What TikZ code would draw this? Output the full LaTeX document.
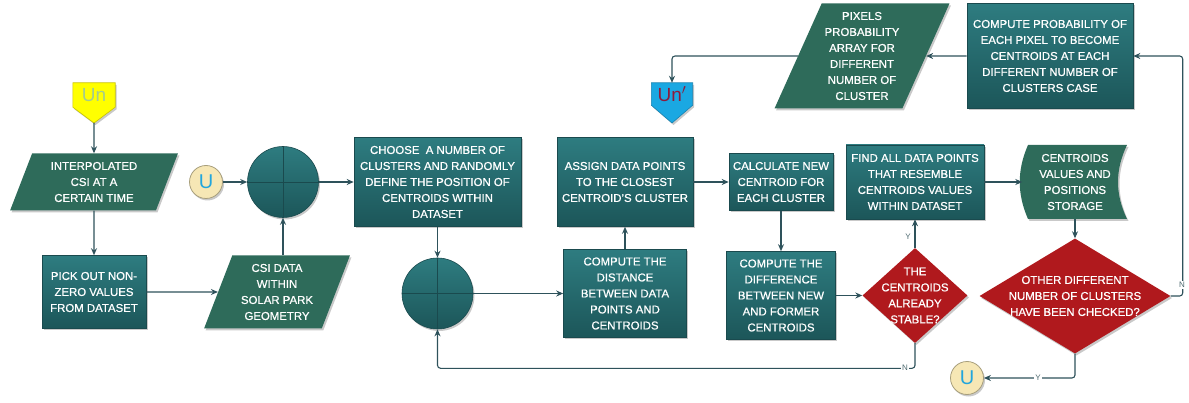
\documentclass[tikz,border=0pt]{standalone}
\usepackage{fontspec}
\setmainfont{Liberation Sans}
\newfontfamily\boxfont[FakeBold=0.7]{Liberation Sans}
\usetikzlibrary{shapes.geometric,arrows.meta,shadows,calc,backgrounds}

\definecolor{tealtop}{HTML}{2E7C80}
\definecolor{tealbot}{HTML}{1C5659}
\definecolor{tealedge}{HTML}{1A4A4E}
\definecolor{iogreen}{HTML}{2E6B5A}
\definecolor{decred}{HTML}{B0191D}
\definecolor{flowline}{HTML}{2E525B}
\definecolor{connfill}{HTML}{F6E7B5}
\definecolor{connedge}{HTML}{A89F7C}
\definecolor{conntext}{HTML}{22A6DD}
\definecolor{pageyellow}{HTML}{FFFF00}
\definecolor{pageyedge}{HTML}{C9C400}
\definecolor{pageytext}{HTML}{A3CC8E}
\definecolor{pageblue}{HTML}{1AA8E2}
\definecolor{pagebedge}{HTML}{1683B2}
\definecolor{pagebtext}{HTML}{8E1B3B}
\definecolor{labgray}{HTML}{4E6A70}

\begin{document}
\begin{tikzpicture}[x=1pt, y=-1pt,
  txt/.style={text=white, align=center, font=\boxfont\fontsize{11.4}{16}\selectfont, inner sep=0pt},
  softshadow/.style={general shadow={fill=black!70, opacity=0.3, shadow xshift=1.5pt, shadow yshift=-2pt}},
  proc/.style={txt, rectangle, draw=tealedge, line width=0.6pt, top color=tealtop, bottom color=tealbot, softshadow},
  io/.style={txt, trapezium, trapezium stretches=true, fill=iogreen, softshadow},
  dec/.style={diamond, fill=decred, inner sep=0pt, softshadow},
  junc/.style={circle, minimum size=71pt, inner sep=0pt, draw=tealedge, line width=0.6pt, top color=tealtop, bottom color=tealbot, softshadow},
  conn/.style={circle, minimum size=33pt, inner sep=0pt, fill=connfill, draw=connedge, line width=0.8pt, text=conntext, font=\fontsize{20}{20}\selectfont, softshadow},
  pagebox/.style={rectangle, inner sep=0pt, font=\fontsize{19}{19}\selectfont},
  flow/.style={draw=flowline, line width=1.1pt, rounded corners=3pt, -{Stealth[length=7pt,width=6pt]}},
  lab/.style={text=labgray, font=\fontsize{8}{8}\selectfont, fill=white, inner sep=1pt}
]
\useasboundingbox (0,0) rectangle (1189,403);

% ---------- left column ----------
\node[pagebox, minimum width=42pt, minimum height=24pt, text=pageytext] (un) at (94,95) {Un};
\coordinate (untip) at (94,123);
\node[io, trapezium left angle=69, trapezium right angle=111, minimum width=168pt, minimum height=57pt] (interp) at (94,182) {INTERPOLATED\\CSI AT A\\CERTAIN TIME};
\node[proc, minimum width=104pt, minimum height=73pt] (pick) at (94,292) {PICK OUT NON-\\ZERO VALUES\\FROM DATASET};
\node[io, trapezium left angle=68, trapezium right angle=112, minimum width=146pt, minimum height=73pt] (csi) at (277,292) {CSI DATA\\WITHIN\\SOLAR PARK\\GEOMETRY};
\node[conn] (u1) at (206,182) {U};
\node[junc] (j1) at (283,182) {};

% ---------- centre ----------
\node[proc, minimum width=167pt, minimum height=89pt] (choose) at (437.5,182) {CHOOSE\ \ A NUMBER OF\\CLUSTERS AND RANDOMLY\\DEFINE THE POSITION OF\\CENTROIDS WITHIN\\DATASET};
\node[junc] (j2) at (437.5,293.5) {};
\node[proc, minimum width=123pt, minimum height=88pt] (dist) at (625,293.5) {COMPUTE THE\\DISTANCE\\BETWEEN DATA\\POINTS AND\\CENTROIDS};
\node[proc, minimum width=136pt, minimum height=89pt] (assign) at (625,182) {ASSIGN DATA POINTS\\TO THE CLOSEST\\CENTROID’S CLUSTER};
\node[pagebox, minimum width=41pt, minimum height=22pt, text=pagebtext] (unp) at (672,94) {Un$^{\prime}$};
\coordinate (unptip) at (672,123);

% ---------- right part ----------
\node[proc, minimum width=104pt, minimum height=57pt] (calc) at (781,182) {CALCULATE NEW\\CENTROID FOR\\EACH CLUSTER};
\node[proc, minimum width=109pt, minimum height=88pt] (diff) at (781,295.5) {COMPUTE THE\\DIFFERENCE\\BETWEEN NEW\\AND FORMER\\CENTROIDS};
\node[dec, minimum width=105pt, minimum height=95pt,
  label={[txt]center:THE\\CENTROIDS\\ALREADY\\STABLE?}] (d1) at (915,295.5) {};
\node[proc, minimum width=138pt, minimum height=74pt] (find) at (915,182) {FIND ALL DATA POINTS\\THAT RESEMBLE\\CENTROIDS VALUES\\WITHIN DATASET};
\node[txt, minimum width=105pt, minimum height=74pt] (st) at (1075,182) {CENTROIDS\\VALUES AND\\POSITIONS\\STORAGE};
\node[dec, minimum width=191pt, minimum height=115pt,
  label={[txt]center:OTHER DIFFERENT\\NUMBER OF CLUSTERS\\HAVE BEEN CHECKED?}] (d2) at (1075,296) {};
\node[conn] (u2) at (967,378) {U};
\node[proc, minimum width=166pt, minimum height=105pt] (prob) at (1050,56) {COMPUTE PROBABILITY OF\\EACH PIXEL TO BECOME\\CENTROIDS AT EACH\\DIFFERENT NUMBER OF\\CLUSTERS CASE};
\node[io, trapezium left angle=63.6, trapezium right angle=116.4, minimum width=175pt, minimum height=105pt] (pix) at (862,56) {PIXELS\\PROBABILITY\\ARRAY FOR\\DIFFERENT\\NUMBER OF\\CLUSTER};

% ---------- drawn outlines behind the text nodes ----------
\begin{pgfonlayer}{background}
  % off-page connectors
  \path[fill=pageyellow, draw=pageyedge, line width=0.6pt, softshadow]
    (un.north west) -- (un.north east) -- (un.south east) -- (untip) -- (un.south west) -- cycle;
  \path[fill=pageblue, draw=pagebedge, line width=0.6pt, softshadow]
    (unp.north west) -- (unp.north east) -- (unp.south east) -- (unptip) -- (unp.south west) -- cycle;
  % stored data symbol
  \path[fill=iogreen, softshadow, shift={(st.center)}]
    (-47,-37) -- (52,-37) .. controls (40,-12) and (40,12) .. (52,37)
    -- (-47,37) .. controls (-58,12) and (-58,-12) .. (-47,-37) -- cycle;
\end{pgfonlayer}

% summing junction crosses
\draw[tealedge, line width=0.8pt] (j1.north) -- (j1.south) (j1.west) -- (j1.east);
\draw[tealedge, line width=0.8pt] (j2.north) -- (j2.south) (j2.west) -- (j2.east);

% ---------- connectors ----------
\draw[flow] (untip) -- (interp.north);
\draw[flow] (interp.south) -- (pick.north);
\draw[flow] (pick.east) -- (csi.west);
\draw[flow] (j1.south |- csi.north) -- (j1.south);
\draw[flow] (u1.east) -- (j1.west);
\draw[flow] (j1.east) -- (choose.west);
\draw[flow] (choose.south) -- (j2.north);
\draw[flow] (j2.east) -- (dist.west);
\draw[flow] (dist.north) -- (assign.south);
\draw[flow] (assign.east) -- (calc.west);
\draw[flow] (calc.south) -- (diff.north);
\draw[flow] (diff.east) -- (d1.west);
\draw[flow] (d1.north) -- (find.south);
\draw[flow] (d1.south) |- ($(j2.south)+(0,39)$) -- (j2.south);
\draw[flow] (find.east) -- (st.west);
\draw[flow] (st.south) -- (d2.north);
\draw[flow] (d2.east) -- ++(12,0) |- (prob.east);
\draw[flow] (d2.south) |- (u2.east);
\draw[flow] (prob.west) -- (pix.east);
\draw[flow] (pix.west) -| (unp.north);

% ---------- branch labels ----------
\node[lab, fill=none] (y1) at (908,237) {Y};
\node[lab] (n1) at (905,368) {N};
\node[lab] (n2) at (1182,285) {N};
\node[lab] (y2) at (1038,378) {Y};
\end{tikzpicture}
\end{document}
